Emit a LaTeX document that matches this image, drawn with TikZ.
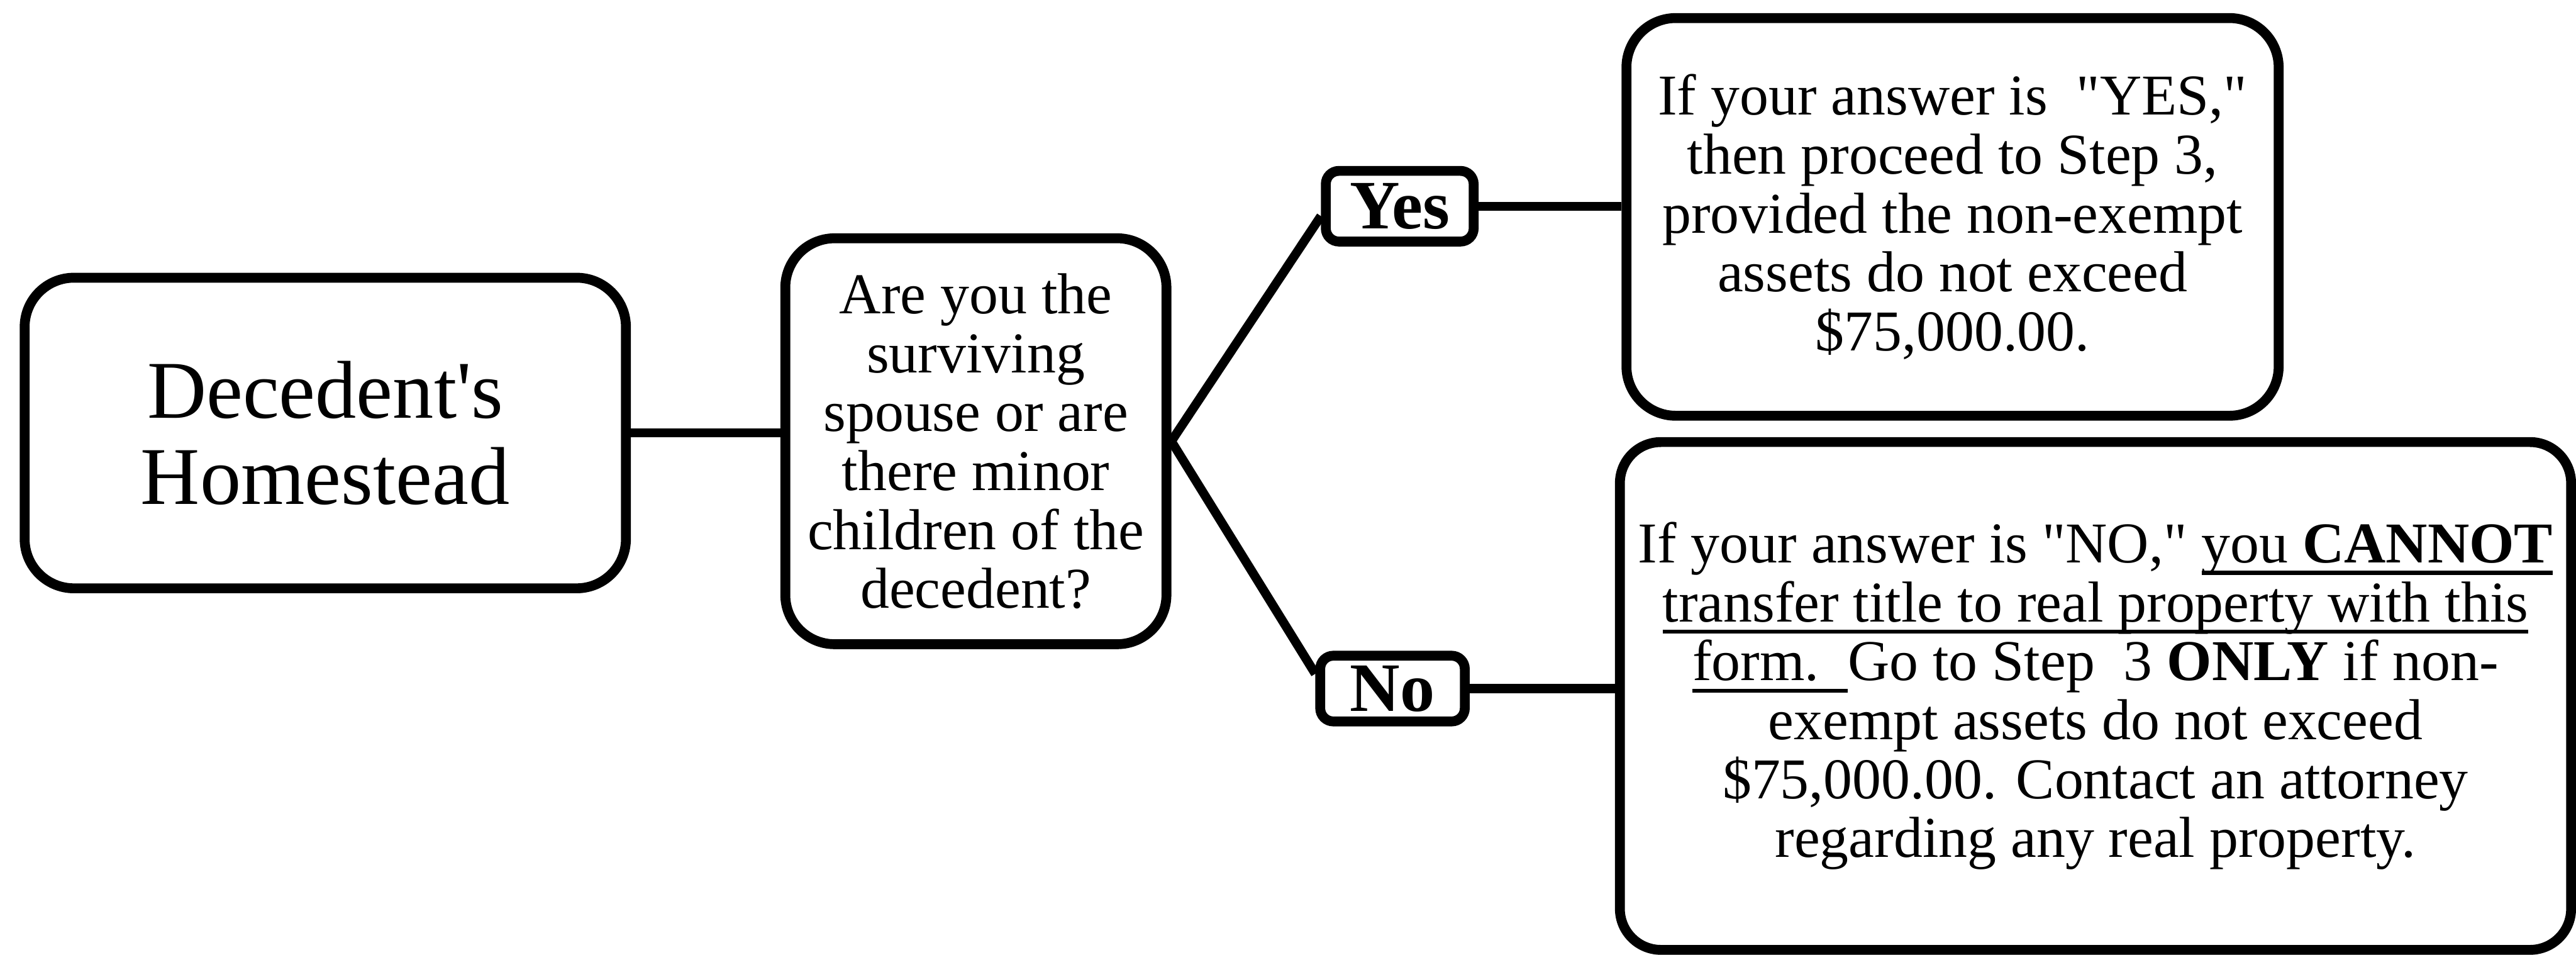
\documentclass[tikz,border=0pt]{standalone}
\usepackage{fontspec}
\setmainfont{Liberation Serif}[Ligatures=TeXOff]
\usetikzlibrary{positioning, calc}
% underline at a fixed depth, as in the form
\newcommand{\undl}[1]{\setbox0\hbox{#1}\rlap{\rule[-2.1pt]{\wd0}{0.7pt}}\box0}
\tikzset{
    % Node styles - all with rounded corners
    homebox/.style={
        rectangle,
        draw=black,
        line width=0.6mm,
        rounded corners=3mm,
        minimum width=3.66cm,
        minimum height=1.89cm,
        align=center,
        font=\fontsize{14.2}{15}\selectfont
    },
    questbox/.style={
        rectangle,
        draw=black,
        line width=0.6mm,
        rounded corners=3mm,
        inner sep=1mm,
        minimum width=2.32cm,
        minimum height=2.47cm,
        align=center,
        font=\fontsize{10}{10.2}\selectfont
    },
    answerbox/.style={
        rectangle,
        draw=black,
        line width=0.6mm,
        rounded corners=0.8mm,
        inner sep=0pt,
        align=center,
        font=\fontsize{12}{12}\selectfont\bfseries
    },
    resultbox/.style={
        rectangle,
        draw=black,
        line width=0.6mm,
        rounded corners=3mm,
        inner sep=0.5mm,
        align=center,
        font=\fontsize{10}{10.2}\selectfont
    },
    % Connector style
    myline/.style={
        line width=0.55mm,
        black
    }
}
\begin{document}
\begin{tikzpicture}
    \useasboundingbox (0,0) rectangle (15.68,5.81);

    % Start
    \node[homebox] (home) at (1.98,3.175) {Decedent's\\Homestead};

    % Question
    \node[questbox] (quest) at (5.94,3.125) {Are you the\\surviving\\spouse or are\\there minor\\children of the\\decedent?};

    % Answers
    \node[answerbox,minimum width=0.90cm,minimum height=0.43cm] (yes) at (8.52,4.555) {Yes};
    \node[answerbox,minimum width=0.88cm,minimum height=0.40cm] (no) at (8.476,1.62) {No};

    % Results
    \node[resultbox,minimum width=3.97cm,minimum height=2.42cm] (yesres) at (11.885,4.49) {If your answer is\ \ "YES,"\\then proceed to Step 3,\\provided the non-exempt\\assets do not exceed\\\$75,000.00.};
    \node[resultbox,rounded corners=2.5mm,minimum width=5.79cm,minimum height=3.09cm] (nores) at (12.755,1.575) {If your answer is "NO," \undl{you \textbf{CANNOT}}\\\undl{transfer title to real property with this}\\\undl{form.\hphantom{n}} Go to Step\ \ 3 \textbf{ONLY} if non-\\exempt assets do not exceed\\\$75,000.00. Contact an attorney\\regarding any real property.};

    % Connectors
    \draw[myline] (home.east) -- (home.east -| quest.west);
    \draw[myline] (quest.east) -- ([yshift=-0.6mm]yes.west);
    \draw[myline] (quest.east) -- ([yshift=0.9mm]no.west);
    \draw[myline] (yes.east) -- (yes.east -| yesres.west);
    \draw[myline] (no.east) -- (no.east -| nores.west);
\end{tikzpicture}
\end{document}
